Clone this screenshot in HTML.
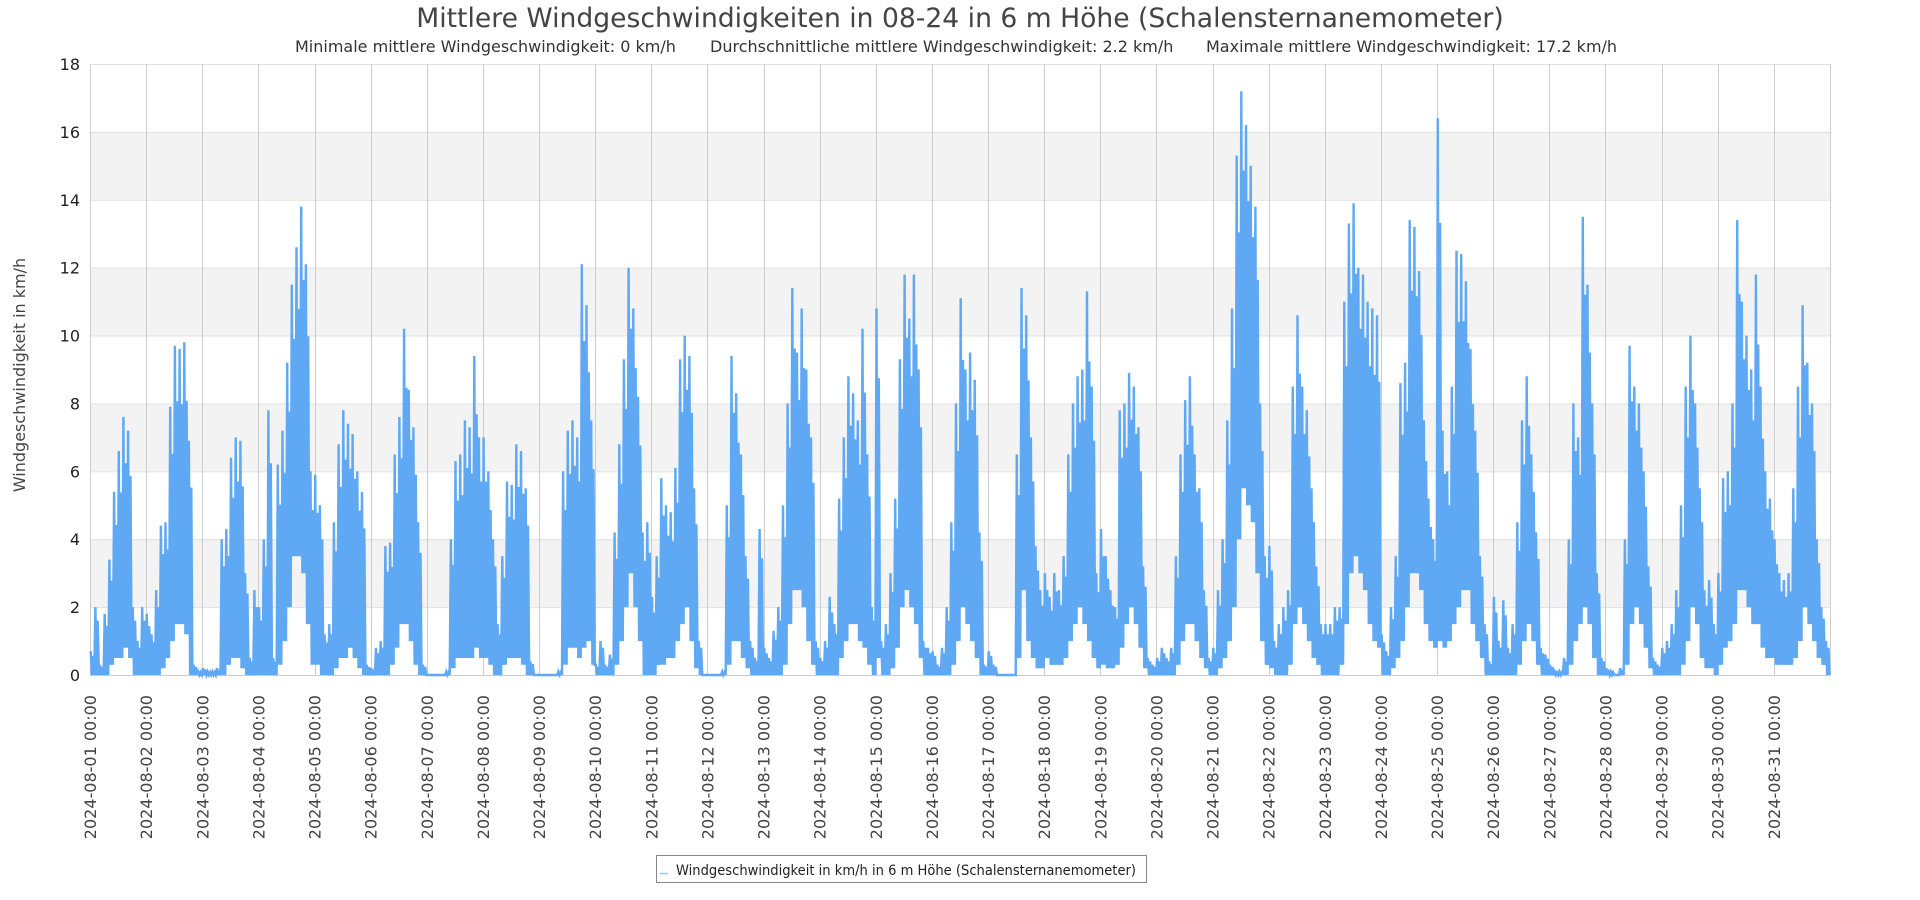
<!DOCTYPE html>
<html><head><meta charset="utf-8"><style>
html,body{margin:0;padding:0;background:#fff;}
svg{display:block;font-family:"DejaVu Sans","Liberation Sans",sans-serif;}
</style></head><body>
<svg id="chart" width="1920" height="900" viewBox="0 0 1920 900" xmlns="http://www.w3.org/2000/svg">
<text x="960" y="27" text-anchor="middle" font-size="26.6" fill="#444">Mittlere Windgeschwindigkeiten in 08-24 in 6 m Höhe (Schalensternanemometer)</text>
<text x="295" y="52" font-size="16" fill="#333">Minimale mittlere Windgeschwindigkeit: 0 km/h</text>
<text x="710" y="52" font-size="16" fill="#333">Durchschnittliche mittlere Windgeschwindigkeit: 2.2 km/h</text>
<text x="1206" y="52" font-size="16" fill="#333">Maximale mittlere Windgeschwindigkeit: 17.2 km/h</text>
<g id="bands"></g>
<g id="grid"></g>
<g id="series"></g>
<g id="yticks"></g>
<g id="xticks"></g>
<text transform="translate(25,375) rotate(-90)" text-anchor="middle" font-size="16" fill="#444">Windgeschwindigkeit in km/h</text>
<g>
<rect x="656.5" y="855.5" width="490" height="27" fill="#fff" stroke="#888" stroke-width="1"/>
<line x1="660" y1="873.5" x2="668" y2="873.5" stroke="#9cc8f6" stroke-width="1.5"/>
<text x="676" y="875" font-size="14" textLength="460" lengthAdjust="spacingAndGlyphs" fill="#222">Windgeschwindigkeit in km/h in 6 m Höhe (Schalensternanemometer)</text>
</g>
</svg>
<script>
// 2-hour bucket maxima per day (km/h), Aug 1..31
const dayMax = [
[0.7,2.0,0.3,1.8,3.4,5.4,6.6,7.6,7.2,2.0,1.0,2.0],
[1.8,1.2,2.5,4.4,4.5,7.9,9.7,9.6,9.8,6.9,0.3,0.1],
[0.2,0.1,0.1,0.2,4.0,4.3,6.4,7.0,6.9,3.0,0.5,2.5],
[2.0,4.0,7.8,0.5,6.2,7.2,9.2,11.5,12.6,13.8,12.1,6.0],
[5.9,5.0,1.2,1.5,4.5,6.8,7.8,7.4,7.1,6.0,5.4,0.3],
[0.2,0.8,1.0,3.8,3.9,6.5,7.6,10.2,8.4,7.3,4.5,0.3],
[0,0,0,0,0.1,4.0,6.3,6.5,7.5,7.3,9.4,7.0],
[7.0,6.0,4.0,1.5,3.5,5.7,5.6,6.8,6.6,5.5,0.4,0.0],
[0,0,0,0,0.1,6.0,7.2,7.5,7.0,12.1,10.9,7.5],
[0.3,1.0,0.3,0.6,4.2,6.8,9.3,12.0,10.8,8.2,4.2,4.5],
[2.3,3.5,5.8,5.0,4.8,6.1,9.3,10.0,9.4,5.5,1.0,0.0],
[0,0,0,0.1,5.0,9.4,8.3,6.5,3.5,1.0,0.5,4.3],
[0.8,0.5,1.3,2.0,5.0,8.0,11.4,9.5,10.8,9.0,7.0,1.0],
[0.5,1.0,2.3,1.5,5.2,7.0,8.8,8.3,7.5,10.2,6.5,2.0],
[10.8,1.0,1.5,3.0,5.2,9.3,11.8,10.5,11.8,9.0,1.0,0.8],
[0.7,0.3,0.8,2.0,4.5,8.0,11.1,9.0,9.5,8.7,4.2,0.3],
[0.7,0.3,0.0,0.0,0.0,0.0,6.5,11.4,10.6,7.0,3.8,2.5],
[3.0,2.3,3.0,2.5,3.5,6.5,8.0,8.8,9.0,11.3,8.5,3.0],
[4.3,3.5,2.5,2.0,7.8,8.0,8.9,8.5,7.3,3.2,0.5,0.3],
[0.5,0.8,0.5,0.8,3.5,6.5,8.1,8.8,6.5,5.5,2.5,0.5],
[0.8,2.5,4.0,7.5,10.8,15.3,17.2,16.2,15.0,13.8,8.0,3.5],
[3.8,1.0,1.5,2.0,2.5,8.5,10.6,8.5,7.8,5.5,3.2,1.5],
[1.5,1.5,2.0,2.0,11.0,13.3,13.9,12.0,11.8,11.0,10.8,10.6],
[1.2,0.7,2.0,3.5,8.6,9.2,13.4,13.2,11.9,7.5,5.2,4.0],
[16.4,7.2,6.0,8.5,12.5,12.4,11.6,9.6,7.2,3.5,1.5,0.4],
[2.3,1.0,2.2,0.8,1.5,4.5,7.5,8.8,6.5,4.2,0.8,0.6],
[0.3,0.1,0.1,0.5,4.0,8.0,7.0,13.5,11.5,8.0,3.0,0.5],
[0.2,0.1,0.0,0.2,4.0,9.7,8.5,8.0,6.0,3.2,0.5,0.3],
[0.8,1.0,1.5,2.5,5.0,8.5,10.0,8.0,5.5,2.5,2.8,1.5],
[3.0,5.8,6.0,8.0,13.4,11.0,10.0,9.0,11.8,8.5,6.0,5.2],
[4.0,3.0,2.8,3.0,5.5,8.5,10.9,9.2,8.0,4.0,2.0,1.0]
];
// 2-hour bucket minima per day (km/h)
const dayMin = [
[0,0,0,0,0.3,0.5,0.5,0.8,0.5,0,0,0],
[0,0,0,0.2,0.5,1.0,1.5,1.5,1.2,0,0,0],
[0,0,0,0,0,0.3,0.5,0.5,0.2,0,0,0],
[0,0,0,0,0.3,1.0,2.0,3.5,3.5,3.0,1.5,0.3],
[0.3,0,0,0,0.2,0.5,0.5,0.8,0.5,0.2,0,0],
[0,0,0,0,0.3,0.8,1.5,1.5,1.0,0.3,0,0],
[0,0,0,0,0,0.2,0.5,0.5,0.5,0.5,0.8,0.5],
[0.5,0.3,0,0,0.3,0.5,0.5,0.5,0.3,0,0,0],
[0,0,0,0,0,0.3,0.8,0.8,0.5,0.8,1.0,0.3],
[0,0,0,0,0.3,1.0,2.0,3.0,2.0,1.0,0,0],
[0,0.3,0.3,0.5,0.5,1.0,1.5,2.0,1.0,0.2,0,0],
[0,0,0,0,0.3,1.0,1.0,0.5,0.2,0,0,0],
[0,0,0,0,0.3,1.5,2.5,2.5,2.0,1.0,0.3,0],
[0,0,0,0,0.5,1.0,1.5,1.5,1.0,0.8,0.3,0],
[0.5,0,0,0.2,0.8,2.0,2.5,2.0,1.5,0.5,0,0],
[0,0,0,0,0.3,1.0,2.0,1.5,1.0,0.5,0,0],
[0,0,0,0,0,0,0.5,2.5,1.0,0.5,0.2,0.2],
[0.5,0.3,0.3,0.3,0.5,1.0,1.5,2.0,1.5,1.0,0.5,0.2],
[0.3,0.2,0.2,0.3,0.8,1.5,2.0,1.5,0.8,0.2,0,0],
[0,0,0,0,0.3,1.0,1.5,1.5,1.0,0.5,0.2,0],
[0,0.2,0.5,1.0,2.0,4.0,5.5,5.0,4.5,3.0,1.0,0.3],
[0.2,0,0,0,0.3,1.5,2.0,1.5,1.0,0.5,0.3,0],
[0,0,0,0.3,1.5,3.0,3.5,3.0,2.5,1.5,1.0,0.8],
[0,0,0.2,0.5,1.0,2.0,3.0,3.0,2.5,1.5,1.0,0.8],
[1.0,0.8,1.0,1.5,2.0,2.5,2.5,1.5,1.0,0.5,0,0],
[0,0,0,0,0,0.3,1.0,1.5,1.0,0.3,0,0],
[0,0,0,0,0.3,1.0,1.5,2.0,1.5,0.5,0,0],
[0,0,0,0,0.3,1.5,2.0,1.5,0.8,0.2,0,0],
[0,0,0,0,0.3,1.0,2.0,1.5,0.5,0.2,0.2,0],
[0.3,0.8,1.0,1.5,2.5,2.5,2.0,1.5,1.5,0.8,0.5,0.5],
[0.3,0.3,0.3,0.3,0.5,1.0,2.0,1.5,1.0,0.5,0.3,0]
];
const yTicks = [0,2,4,6,8,10,12,14,16,18];
const dayLabels = [];
for (let d = 1; d <= 31; d++) dayLabels.push('2024-08-' + String(d).padStart(2,'0') + ' 00:00');

const NS = 'http://www.w3.org/2000/svg';
const X0 = 90, X1 = 1830, Y0 = 675, Y1 = 64;
const NDAYS = 31, YMAX = 18;
const xScale = h => X0 + (h / (NDAYS * 24)) * (X1 - X0);
const yScale = v => Y0 - (v / YMAX) * (Y0 - Y1);
function mk(tag, attrs, parent) {
  const el = document.createElementNS(NS, tag);
  for (const k in attrs) el.setAttribute(k, attrs[k]);
  parent.appendChild(el);
  return el;
}
const bands = document.getElementById('bands');
for (let i = 0; i < yTicks.length - 1; i++) {
  if (i % 2 === 1) {
    const r = mk('rect', {x: X0, y: yScale(yTicks[i+1]), width: X1 - X0, height: yScale(yTicks[i]) - yScale(yTicks[i+1]), fill: '#f3f3f3'}, bands);
    
    
  }
}
const grid = document.getElementById('grid');
yTicks.forEach(v => {
  const l = mk('line', {x1: X0, x2: X1, y1: yScale(v) + 0.5, y2: yScale(v) + 0.5, stroke: v === 0 ? '#ccc' : '#e0e0e0', 'stroke-width': 1}, grid);
  
  
});
for (let d = 0; d <= NDAYS; d++) {
  const x = Math.round(xScale(d * 24)) + 0.5;
  const l = mk('line', {x1: x, x2: x, y1: Y1, y2: Y0, stroke: '#cccccc', 'stroke-width': 1}, grid);
  
  
}
const series = document.getElementById('series');
let pts = [];
dayMax.forEach((buckets, d) => {
  buckets.forEach((mx, b) => {
    const h = d * 24 + b * 2;
    const mn = dayMin[d][b];
    pts.push(xScale(h + 0.3).toFixed(1) + ',' + yScale(mx).toFixed(1));
    pts.push(xScale(h + 0.8).toFixed(1) + ',' + yScale(mn).toFixed(1));
    pts.push(xScale(h + 1.3).toFixed(1) + ',' + yScale((mx + mn) / 2 + (mx - mn) * 0.3).toFixed(1));
    pts.push(xScale(h + 1.8).toFixed(1) + ',' + yScale(mn).toFixed(1));
  });
});
const pl = mk('polyline', {points: pts.join(' '), fill: 'none', stroke: '#5fa8f3', 'stroke-width': 2.4, 'stroke-linejoin': 'miter'}, series);



const yt = document.getElementById('yticks');
yTicks.forEach(v => {
  const t = mk('text', {x: 80, y: yScale(v) + 6, 'text-anchor': 'end', 'font-size': 16, fill: '#222'}, yt);
  t.textContent = v;
  
  
});
const xt = document.getElementById('xticks');
dayLabels.forEach((lab, d) => {
  const x = xScale(d * 24) + 6;
  const t = mk('text', {transform: 'translate(' + x.toFixed(1) + ',695) rotate(-90)', 'text-anchor': 'end', 'font-size': 16, fill: '#444'}, xt);
  t.textContent = lab;
  
  
});
</script>
</body></html>
